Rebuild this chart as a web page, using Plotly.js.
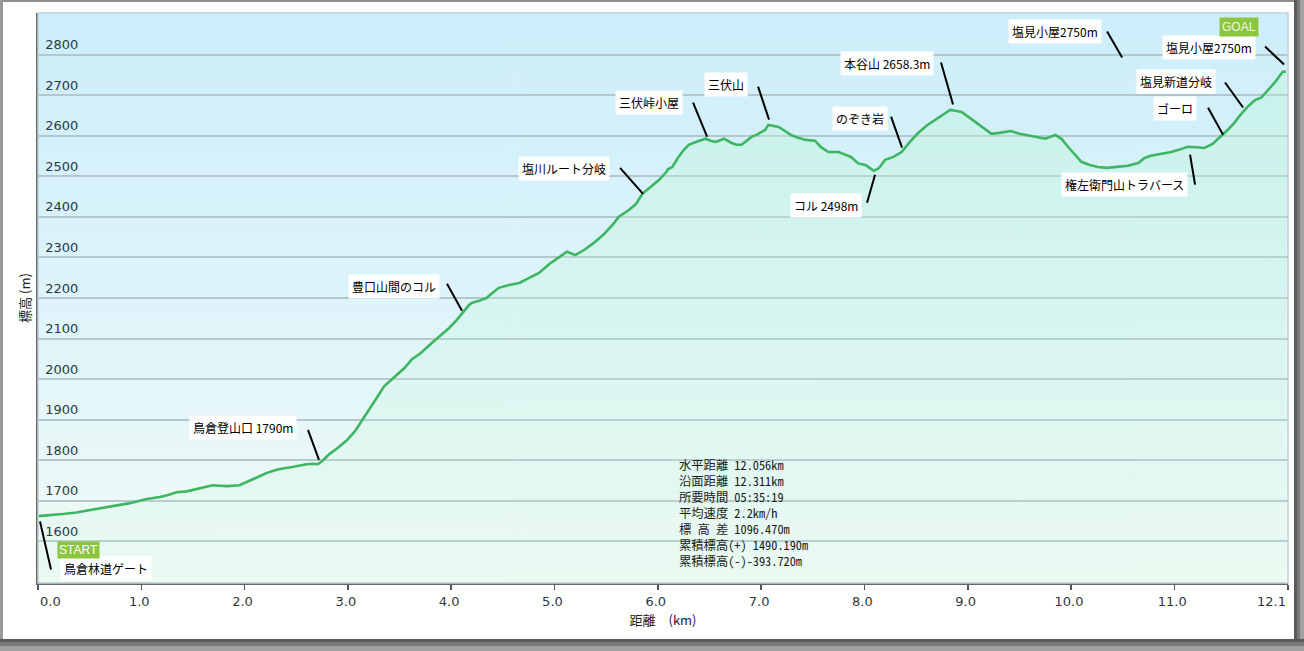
<!DOCTYPE html>
<html><head><meta charset="utf-8">
<script src="https://cdn.plot.ly/plotly-3.0.1.min.js"></script>
<style>html,body{margin:0;padding:0;background:#fff;overflow:hidden}#chart{width:1304px;height:651px}</style>
</head><body><div id="chart"></div>
<script>
// ---- data ----
const distKm = [
 0.00,0.12,0.24,0.37,0.50,0.63,0.76,0.89,1.05,1.18,
 1.26,1.34,1.44,1.57,1.69,1.76,1.83,1.95,2.02,2.08,
 2.15,2.21,2.28,2.34,2.46,2.60,2.66,2.71,2.76,2.82,
 2.90,2.99,3.07,3.14,3.24,3.30,3.35,3.45,3.55,3.62,
 3.70,3.82,3.90,3.98,4.05,4.11,4.17,4.20,4.27,4.34,
 4.40,4.46,4.56,4.66,4.75,4.85,4.95,5.04,5.12,5.20,
 5.29,5.38,5.48,5.57,5.62,5.72,5.79,5.85,5.93,6.01,
 6.08,6.10,6.14,6.20,6.25,6.30,6.38,6.46,6.51,6.56,
 6.64,6.71,6.76,6.81,6.86,6.91,6.96,7.00,7.04,7.07,
 7.12,7.17,7.23,7.29,7.36,7.43,7.52,7.58,7.65,7.75,
 7.87,7.94,8.01,8.05,8.09,8.14,8.20,8.28,8.36,8.44,
 8.52,8.60,8.69,8.76,8.83,8.88,8.94,9.00,9.07,9.15,
 9.23,9.32,9.42,9.49,9.56,9.66,9.75,9.85,9.91,9.97,
 10.04,10.10,10.18,10.26,10.35,10.45,10.55,10.65,10.71,10.77,
 10.87,10.97,11.05,11.13,11.21,11.29,11.37,11.45,11.51,11.58,
 11.64,11.71,11.78,11.84,11.90,11.97,12.02,12.05,12.08
];
const elevM = [
 1662,1664,1667,1671,1677,1683,1689,1694,1704,1709,
 1714,1721,1723,1731,1738,1737,1736,1738,1745,1753,
 1761,1768,1774,1778,1783,1790,1791,1790,1800,1815,
 1830,1849,1872,1899,1936,1962,1982,2005,2028,2049,
 2063,2091,2108,2126,2145,2165,2182,2188,2193,2200,
 2212,2225,2232,2237,2249,2262,2284,2301,2314,2306,
 2319,2336,2358,2383,2400,2417,2432,2457,2474,2491,
 2510,2518,2523,2548,2565,2578,2586,2593,2588,2585,
 2593,2583,2578,2578,2588,2598,2603,2610,2615,2627,
 2625,2622,2612,2602,2595,2590,2588,2572,2560,2560,
 2548,2532,2528,2522,2514,2520,2541,2548,2560,2585,
 2607,2625,2640,2652,2664,2662,2659,2648,2635,2620,
 2605,2608,2612,2606,2602,2598,2593,2602,2592,2573,
 2553,2536,2528,2523,2521,2523,2526,2533,2545,2551,
 2555,2560,2566,2573,2572,2570,2580,2598,2613,2632,
 2652,2672,2688,2694,2710,2731,2748,2758,2758
];
const yTickVals = [1600,1700,1800,1900,2000,2100,2200,2300,2400,2500,2600,2700,2800];
const xTickVals = [0,1,2,3,4,5,6,7,8,9,10,11,12.1];
const xTickText = ['0.0','1.0','2.0','3.0','4.0','5.0','6.0','7.0','8.0','9.0','10.0','11.0','12.1'];
const xTitle = '距離　(km)';
const yTitle = '標高 (m)';

const wpNames = ['鳥倉林道ゲート','鳥倉登山口 1790m','豊口山間のコル','塩川ルート分岐','三伏峠小屋','三伏山',
  'のぞき岩','本谷山 2658.3m','コル 2498m','塩見小屋2750m','塩見小屋2750m','塩見新道分岐','ゴーロ','権左衛門山トラバース'];
const wpKm   = [0.00, 2.72, 4.11, 5.85, 6.46, 7.07, 8.36, 8.84, 8.09, 10.47, 12.06, 11.66, 11.45, 11.12];
const wpElev = [1662, 1790, 2165, 2457, 2593, 2627, 2560, 2664, 2514, 2790, 2758, 2668, 2598, 2570];

const startLabel = 'START';
const goalLabel = 'GOAL';
const statLines = ['水平距離 12.056km','沿面距離 12.311km','所要時間 05:35:19','平均速度 2.2km/h',
  '標 高 差 1096.470m','累積標高(+) 1490.190m','累積標高(-)-393.720m'];

// ---- layout positions (pixel offsets, screen y down) ----
// [lineStartDx, lineStartDy, lineEndDx, lineEndDy, textDx, textDy]
const wpOffsets = [
 [2,5.4,13,53.4, 68,52.4],
 [-11,-34.3,0,-4.3, -75.5,-36.3],
 [-15.6,-28.4,-0.6,-1.4, -69,-25.4],
 [-22.3,-26,0.7,0, -78.8,-25],
 [-12.3,-36,1.7,-2, -56.3,-36.5],
 [-10.3,-38.2,0.7,-5.2, -42.3,-40.2],
 [-10.6,-35.4,0.4,-4.4, -41.6,-33.4],
 [-10.2,-47.3,1.8,-5.3, -64.7,-46.8],
 [-6.7,32,1.3,4, -48.2,35],
 [-12.5,-27.2,2.5,-1.2, -64.5,-27.7],
 [-18.8,-25.2,0.2,-7.2, -75.3,-24.7],
 [-17.5,-25.8,0.5,-0.8, -66.5,-26.3],
 [-12.8,-29,2.2,-2, -45.8,-28.5],
 [8.3,36.7,3.3,6.7, -62.2,36.7]
];

const L = 38, R = 1288, T = 13, B = 583, W = 1304, H = 651;
const pxX = p => (p - L) / (R - L);
const pxY = p => (B - p) / (B - T);
const NB = '\u00a0';

function grad(stops) {
  const c = document.createElement('canvas'); c.width = 4; c.height = 256;
  const g = c.getContext('2d'); const lg = g.createLinearGradient(0, 0, 0, 256);
  stops.forEach(s => lg.addColorStop(s[0], s[1])); g.fillStyle = lg; g.fillRect(0, 0, 4, 256);
  return c.toDataURL();
}

const jp = '"Noto Sans CJK JP", "Noto Sans", sans-serif';
const annotations = [];
const shapes = [];
wpNames.forEach((n, i) => {
  const o = wpOffsets[i];
  shapes.push({type:'line', xref:'x', yref:'y', xsizemode:'pixel', ysizemode:'pixel',
    xanchor: wpKm[i], yanchor: wpElev[i], x0: o[0], y0: -o[1], x1: o[2], y1: -o[3],
    line:{color:'#000', width:2}, layer:'above'});
  annotations.push({x: wpKm[i], y: wpElev[i], xref:'x', yref:'y', text: n, showarrow:false,
    xshift: o[4], yshift: -o[5], xanchor:'center', yanchor:'middle', bgcolor:'#ffffff', borderpad:3,
    font:{family: jp, size:12, color:'#000'}});
});
const n = distKm.length - 1;
annotations.push({x: distKm[0], y: elevM[0], xref:'x', yref:'y', text: startLabel, showarrow:false,
  xshift: 40.5, yshift: -34.3, xanchor:'center', yanchor:'middle', bgcolor:'#8cc63f', borderpad:1,
  font:{family:'"Liberation Sans", Arial, sans-serif', size:12, color:'#ffffff'}});
annotations.push({x: distKm[n], y: elevM[n], xref:'x', yref:'y', text: goalLabel, showarrow:false,
  xshift: -47.4, yshift: 45.2, xanchor:'center', yanchor:'middle', bgcolor:'#8cc63f', borderpad:2,
  font:{family:'"Liberation Sans", Arial, sans-serif', size:12, color:'#eef7e0'}});
annotations.push({x: pxX(677), y: pxY(454), xref:'paper', yref:'paper', text: statLines.join('<br>'), showarrow:false,
  xanchor:'left', yanchor:'top', align:'left',
  font:{family:'"Noto Sans Mono CJK JP", "DejaVu Sans Mono", monospace', size:12.3, color:'#1a1a1a'}});

// frame
function rect(x0, y0, x1, y1, c) {
  shapes.push({type:'rect', xref:'paper', yref:'paper', x0:pxX(x0), x1:pxX(x1), y0:pxY(y1), y1:pxY(y0),
    line:{width:0}, fillcolor:c, layer:'above'});
}
rect(0, 0, W, 2, '#8e8e8e');
rect(0, 0, 3, H, '#9a9a9a');
rect(1294, 0, 1297, H, '#5a5a5a');
rect(1297, 0, 1300, H, '#787878');
rect(1300, 0, W, H, '#a2a2a2');
rect(0, 639, W, 642, '#5a5a5a');
rect(0, 642, W, 646, '#787878');
rect(0, 646, W, H, '#a2a2a2');
shapes.push({type:'rect', xref:'paper', yref:'paper', x0:0, x1:1, y0:0, y1:1, line:{color:'#bfd0d6', width:1.5}, layer:'above'});

const bgURL = grad([[0, 'rgb(204,238,250)'], [0.55, 'rgb(224,245,250)'], [1, 'rgb(241,251,246)']]);

const trace = {
  x: distKm, y: elevM, type:'scatter', mode:'lines',
  line:{color:'#3db562', width:2.6},
  fill:'tozeroy',
  fillgradient:{type:'vertical', start:1497, stop:2800,
    colorscale:[[0,'rgba(200,245,215,0.15)'],[1,'rgba(185,245,205,0.35)']]},
  hoverinfo:'skip'
};

// tick label padding so the end labels stay inside the frame, as in the reference
const xTickShown = xTickText.map((t, i) => i === 0 ? NB.repeat(6) + t : (i === xTickText.length - 1 ? t + NB.repeat(8) : t + NB));

const tickFont = {family:'"DejaVu Sans", Verdana, sans-serif', size:13, color:'#2f3840'};
const layout = {
  width: W, height: H,
  margin:{l:L, r:W - R, t:T, b:H - B, pad:0},
  paper_bgcolor:'#ffffff', plot_bgcolor:'rgba(0,0,0,0)',
  showlegend:false,
  images:[{source: bgURL, xref:'paper', yref:'paper', x:0, y:1, sizex:1, sizey:1,
    sizing:'stretch', xanchor:'left', yanchor:'top', layer:'below'}],
  xaxis:{range:[0, 12.1], tickvals:xTickVals, ticktext:xTickShown, ticks:'outside', ticklen:5, tickwidth:1.5,
    tickcolor:'#555', showline:true, linecolor:'#666', linewidth:2, showgrid:false, zeroline:false,
    tickfont:tickFont, ticklabelstandoff:0, ticklabeloverflow:'allow',
    title:{text:xTitle, font:{family:jp, size:13, color:'#222'}, standoff:8}},
  yaxis:{range:[1497, 2903], tickvals:yTickVals, ticks:'', showline:true, linecolor:'#666', linewidth:2,
    showgrid:true, gridcolor:'#b4c7cd', gridwidth:2, zeroline:false,
    ticklabelposition:'outside', ticklabelshift:-10, ticklabelstandoff:-45, ticklabeloverflow:'allow', tickfont:tickFont,
    title:{text:yTitle, font:{family:jp, size:13, color:'#222'}, standoff:12}},
  annotations: annotations,
  shapes: shapes
};
Plotly.newPlot('chart', [trace], layout, {displayModeBar:false, staticPlot:true});
</script>
</body></html>
